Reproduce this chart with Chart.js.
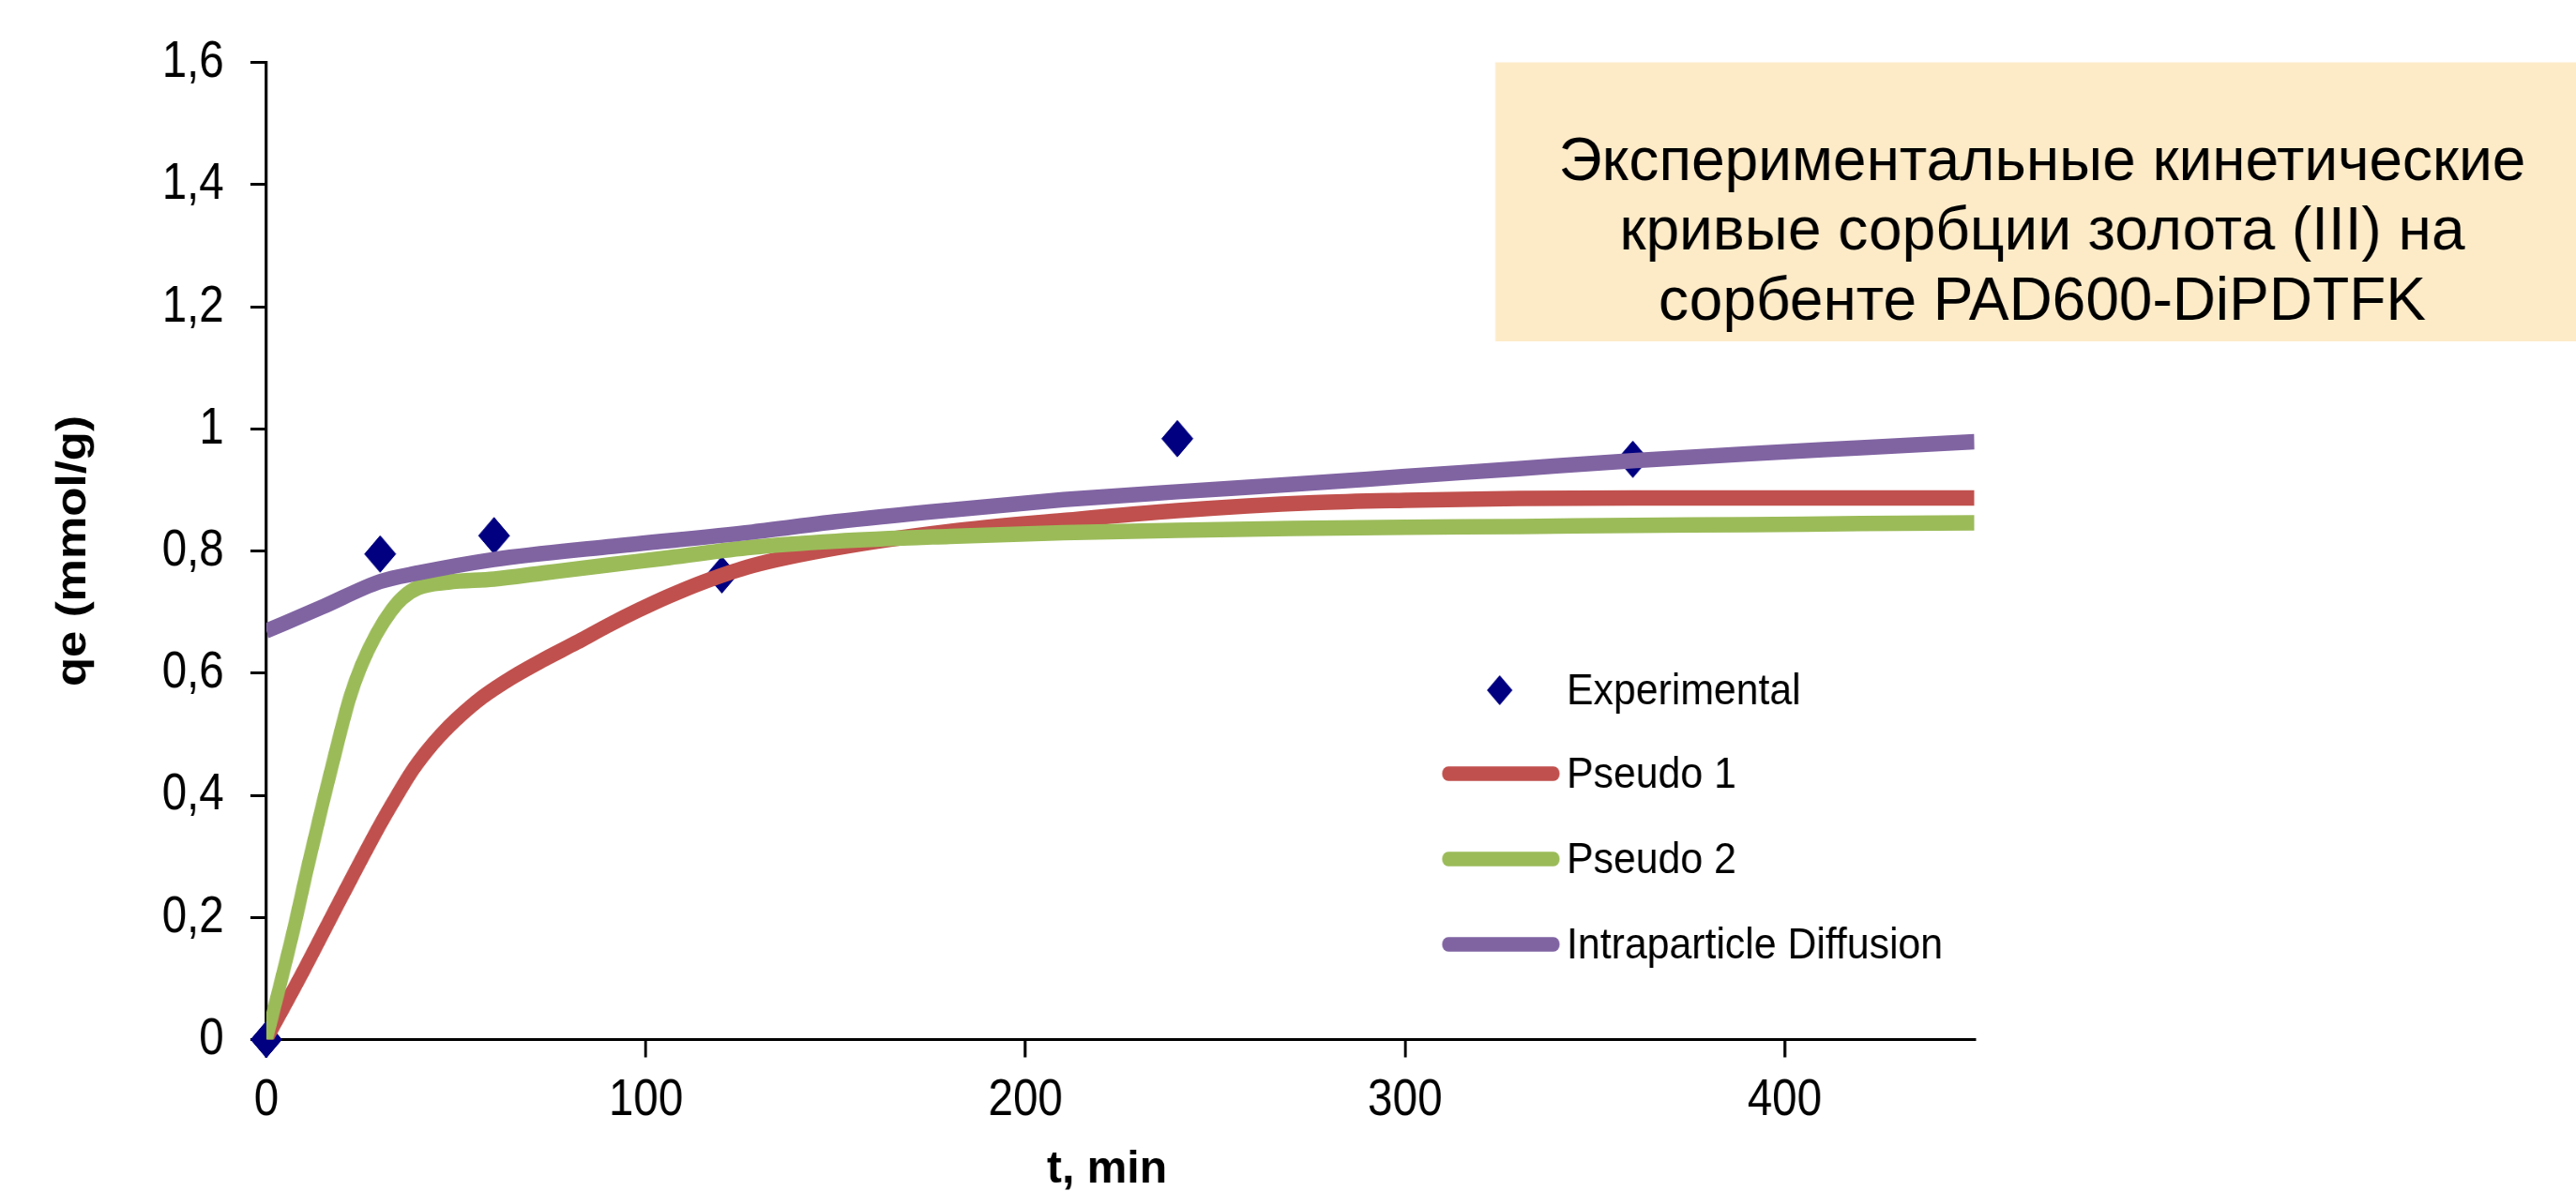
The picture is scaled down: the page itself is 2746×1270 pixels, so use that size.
<!DOCTYPE html>
<html><head><meta charset="utf-8">
<script src="https://cdn.jsdelivr.net/npm/chart.js@4.4.1/dist/chart.umd.min.js"></script>
<style>html,body{margin:0;padding:0;background:#fff;overflow:hidden}canvas{display:block}</style>
</head><body>
<canvas id="c" width="3231" height="1270" style="width:2746px;height:1270px"></canvas>
<script>
// ---- data ----
const seriesNames = ['Experimental', 'Pseudo 1', 'Pseudo 2', 'Intraparticle Diffusion'];
const expT = [0, 30, 60, 120, 240, 360];
const expQ = [0, 0.795, 0.825, 0.761, 0.984, 0.95];
const p1T = [0, 10, 20, 30, 34, 38, 42, 46, 50, 57, 65, 73, 82, 90, 98, 106, 115, 128, 150, 180, 210, 240, 276, 300, 330, 360, 450];
const p1Q = [0, 0.115, 0.235, 0.352, 0.395, 0.436, 0.47, 0.499, 0.524, 0.561, 0.594, 0.622, 0.651, 0.678, 0.703, 0.726, 0.749, 0.776, 0.805, 0.832, 0.85, 0.866, 0.879, 0.883, 0.886, 0.887, 0.887];
const p2T = [0, 7, 11, 15, 19, 22, 25, 29, 33, 36, 40, 48, 60, 73, 90, 106, 128, 150, 180, 210, 240, 270, 300, 330, 360, 390, 420, 450];
const p2Q = [0, 0.175, 0.285, 0.39, 0.49, 0.56, 0.612, 0.664, 0.703, 0.724, 0.740, 0.749, 0.754, 0.764, 0.777, 0.789, 0.806, 0.816, 0.824, 0.830, 0.834, 0.837, 0.839, 0.840, 0.842, 0.843, 0.845, 0.846];
const idT = [0, 15, 30, 40, 60, 90, 128, 150, 180, 210, 240, 270, 300, 330, 360, 390, 420, 450];
const idQ = [0.669, 0.709, 0.750, 0.764, 0.786, 0.807, 0.831, 0.848, 0.867, 0.884, 0.897, 0.909, 0.922, 0.935, 0.948, 0.959, 0.969, 0.979];
const xTickValues = [0, 100, 200, 300, 400];
const xTickLabels = ['0', '100', '200', '300', '400'];
const yTickValues = [0, 0.2, 0.4, 0.6, 0.8, 1, 1.2, 1.4, 1.6];
const yTickLabels = ['0', '0,2', '0,4', '0,6', '0,8', '1', '1,2', '1,4', '1,6'];
const xAxisTitle = 't, min';
const yAxisTitle = 'qe (mmol/g)';
const titleLines = ['Экспериментальные кинетические', 'кривые сорбции золота (III) на', 'сорбенте PAD600-DiPDTFK'];

const FONT = "'Liberation Sans', Arial, sans-serif";
const SQ = 2746 / 3231; // on-screen horizontal scale of the canvas
const pts = (t, q) => t.map((v, i) => ({x: v, y: q[i]}));

// draw text at screen x (xs), canvas y, with horizontal factor fx relative to an unscaled font
function drawText(ctx, s, xs, y, fx, font, align, baseline) {
  ctx.save();
  ctx.translate(xs / SQ, y);
  ctx.scale(fx / SQ, 1);
  ctx.font = font;
  ctx.textAlign = align;
  ctx.textBaseline = baseline;
  ctx.fillStyle = '#000';
  ctx.fillText(s, 0, 0);
  ctx.restore();
}

const annot = {
  id: 'annot',
  afterDraw(chart) {
    const ctx = chart.ctx;
    ctx.save();
    // title box
    ctx.fillStyle = '#FDEBC8';
    ctx.fillRect(1594 / SQ, 66.5, 3231 - 1594 / SQ, 297.5);
    const bl = [192, 266, 341];
    titleLines.forEach((s, i) => drawText(ctx, s, 2177, bl[i], 1, '64px ' + FONT, 'center', 'alphabetic'));
    // x axis title
    drawText(ctx, xAxisTitle, 1180, 1261, 1, 'bold 48px ' + FONT, 'center', 'alphabetic');
    // legend
    const rows = [736, 825, 916, 1007];
    chart.data.datasets.forEach((ds, i) => {
      const y = rows[i];
      if (ds.showLine) {
        ctx.strokeStyle = ds.borderColor;
        ctx.lineWidth = 15.5;
        ctx.lineCap = 'round';
        ctx.beginPath(); ctx.moveTo(1816.5, y); ctx.lineTo(1948.5, y); ctx.stroke();
      } else {
        const r = 16, cx = 1881;
        ctx.fillStyle = ds.backgroundColor;
        ctx.beginPath();
        ctx.moveTo(cx - r, y); ctx.lineTo(cx, y - r); ctx.lineTo(cx + r, y); ctx.lineTo(cx, y + r);
        ctx.closePath(); ctx.fill();
      }
      drawText(ctx, ds.label, 1670, y + 2, 0.93, '46px ' + FONT, 'left', 'middle');
    });
    ctx.restore();
  }
};

new Chart(document.getElementById('c'), {
  type: 'scatter',
  data: {
    datasets: [
      {label: seriesNames[0], data: pts(expT, expQ), showLine: false, order: 4,
       pointStyle: 'rectRot', pointRadius: 19.5, pointHoverRadius: 19.5,
       backgroundColor: '#000080', borderColor: '#000080', borderWidth: 1, clip: false},
      {label: seriesNames[1], data: pts(p1T, p1Q), showLine: true, order: 3, pointRadius: 0,
       borderColor: '#C0504D', backgroundColor: '#C0504D', borderWidth: 16.5, cubicInterpolationMode: 'monotone'},
      {label: seriesNames[2], data: pts(p2T, p2Q), showLine: true, order: 2, pointRadius: 0,
       borderColor: '#9BBB59', backgroundColor: '#9BBB59', borderWidth: 16.5, cubicInterpolationMode: 'monotone'},
      {label: seriesNames[3], data: pts(idT, idQ), showLine: true, order: 1, pointRadius: 0,
       borderColor: '#8064A2', backgroundColor: '#8064A2', borderWidth: 16.5, cubicInterpolationMode: 'monotone'}
    ]
  },
  options: {
    responsive: false,
    devicePixelRatio: 1,
    animation: false,
    events: [],
    layout: {padding: {left: 0, top: 66.5, right: 3231 - 2476.5, bottom: 0}},
    plugins: {legend: {display: false}, tooltip: {enabled: false}},
    scales: {
      x: {
        type: 'linear', min: 0, max: 450,
        afterFit: (s) => { s.height = 1270 - 1108.5; },
        afterBuildTicks: (s) => { s.ticks = xTickValues.map(v => ({value: v})); },
        ticks: {callback: (v, i) => xTickLabels[i], color: '#000', font: {family: FONT, size: 56}, padding: 12, maxRotation: 0, autoSkip: false},
        grid: {drawOnChartArea: false, drawTicks: true, tickLength: 19, color: '#000', lineWidth: 3.5},
        border: {display: true, color: '#000', width: 3},
        title: {display: false, text: xAxisTitle}
      },
      y: {
        type: 'linear', min: 0, max: 1.6,
        afterFit: (s) => { s.width = 334; },
        afterBuildTicks: (s) => { s.ticks = yTickValues.map(v => ({value: v})); },
        ticks: {callback: (v, i) => yTickLabels[i], color: '#000', font: {family: FONT, size: 56}, padding: 33, autoSkip: false},
        grid: {drawOnChartArea: false, drawTicks: true, tickLength: 20, color: '#000', lineWidth: 3},
        border: {display: true, color: '#000', width: 3.5},
        title: {display: true, text: yAxisTitle, color: '#000', font: {family: FONT, size: 51, weight: 'bold'}, padding: {top: 62, bottom: 0}}
      }
    }
  },
  plugins: [annot]
});
</script>
</body></html>
